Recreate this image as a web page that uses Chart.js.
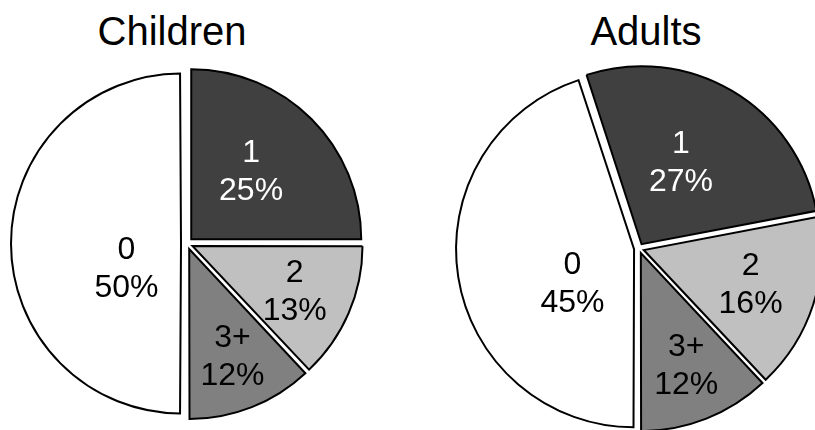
<!DOCTYPE html>
<html>
<head>
<meta charset="utf-8">
<script src="https://cdn.jsdelivr.net/npm/chart.js@4"></script>
<style>
    html, body { margin: 0; padding: 0; background: #fff; overflow: hidden; }
    #wrap { position: relative; width: 815px; height: 430px; overflow: hidden; }
    .title {
        position: absolute; top: 11px; width: 300px; text-align: center;
        font: 40px/40px "Liberation Sans", Arial, sans-serif; color: #000;
    }
    canvas { position: absolute; }
</style>
</head>
<body>
<div id="wrap">
    <div class="title" style="left:22px">Children</div>
    <div class="title" style="left:496px">Adults</div>
    <canvas id="children-chart" width="374" height="387" style="left:0;top:50px"></canvas>
    <canvas id="adults-chart" width="380" height="381" style="left:449px;top:58px"></canvas>
</div>
<script>
// Number of ... per person, share in percent
const categories = ['0', '1', '2', '3+'];
const childrenShares = [50, 25, 13, 12];
const adultsShares = [45, 27, 16, 12];

const sliceColors = ['#ffffff', '#404040', '#c0c0c0', '#808080'];
const labelColors = ['#000000', '#ffffff', '#000000', '#000000'];

// Chart.js grows wide exploded slices a bit, keep them at the real radius
const trueRadius = {
    id: 'trueRadius',
    beforeDatasetDraw(chart, args) {
        args.meta.data.forEach(arc => {
            const fix = 1 - Math.sin(Math.min(Math.PI, arc.circumference));
            arc._r = arc.outerRadius;
            arc.outerRadius = arc._r - (arc.options.offset / 4) * fix;
        });
    },
    afterDatasetDraw(chart, args) {
        args.meta.data.forEach(arc => { arc.outerRadius = arc._r; });
    }
};

// Category name and percentage inside each slice
// (big slices: label sits closer to the centre and a bit back from the bisector)
const sliceLabels = {
    id: 'sliceLabels',
    afterDatasetsDraw(chart) {
        const ctx = chart.ctx;
        const values = chart.data.datasets[0].data;
        const total = values.reduce((a, b) => a + b, 0);
        ctx.save();
        ctx.font = '32px "Liberation Sans", Arial, sans-serif';
        ctx.textAlign = 'center';
        ctx.textBaseline = 'middle';
        chart.getDatasetMeta(0).data.forEach((arc, i) => {
            const mid = (arc.startAngle + arc.endAngle) / 2;
            const share = values[i] / total;
            const shift = arc.options.offset / 4;
            const ang = mid - 1.45 * share * share;
            const r = arc.outerRadius * (0.756 - 0.825 * share);
            const x = arc.x + Math.cos(mid) * shift + Math.cos(ang) * r;
            const y = arc.y + Math.sin(mid) * shift + Math.sin(ang) * r + 5;
            ctx.fillStyle = labelColors[i];
            ctx.fillText(chart.data.labels[i], x, y - 19);
            ctx.fillText(Math.round(share * 100) + '%', x, y + 19);
        });
        ctx.restore();
    }
};

function makePie(id, shares, radius, explode) {
    return new Chart(document.getElementById(id), {
        type: 'pie',
        data: {
            labels: categories,
            datasets: [{
                data: shares,
                backgroundColor: sliceColors,
                borderColor: '#000000',
                borderWidth: 2,
                borderJoinStyle: 'miter',
                offset: explode * 4,
                radius: radius,
                clip: false,
            }]
        },
        options: {
            responsive: false,
            animation: false,
            events: [],
            rotation: 180,
            layout: { padding: 0 },
            plugins: {
                legend: { display: false },
                tooltip: { enabled: false },
            }
        },
        plugins: [trueRadius, sliceLabels]
    });
}

makePie('children-chart', childrenShares, 170, 6);
makePie('adults-chart', adultsShares, 178, 5);
</script>
</body>
</html>
